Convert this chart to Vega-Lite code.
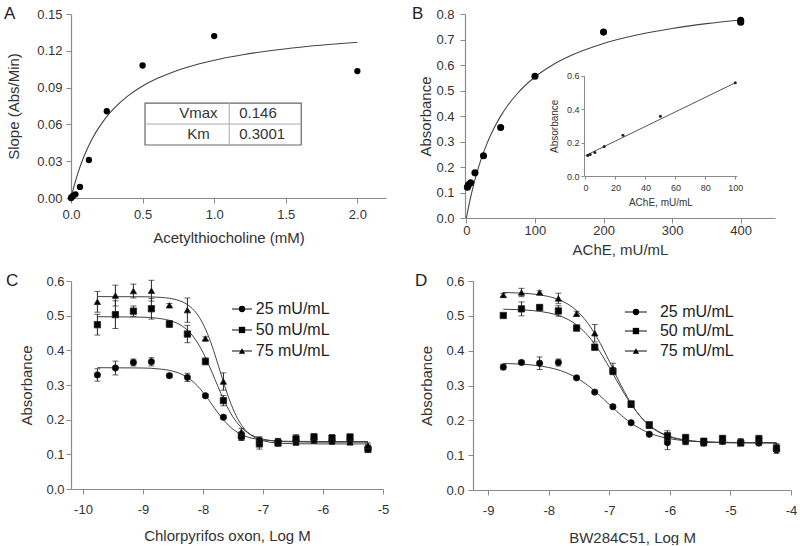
{
"$schema": "https://vega.github.io/schema/vega-lite/v6.json",
"padding": {"left": 4, "top": 5, "right": 0, "bottom": 0},
"background": "white",
"config": {
 "font": "Liberation Sans",
 "view": {"stroke": null},
 "axis": {"grid": false, "domainColor": "#8a8a8a", "tickColor": "#8a8a8a", "labelColor": "#333", "titleColor": "#333", "labelFontSize": 13, "titleFontSize": 15, "titleFontWeight": "normal", "tickSize": 5, "domainWidth": 1.2, "labelFont": "Liberation Sans", "titleFont": "Liberation Sans", "labelOverlap": false, "labelFlush": false, "tickCount": 30},
 "title": {"fontSize": 17, "fontWeight": "normal", "color": "#222", "anchor": "start", "frame": "group", "offset": -15, "font": "Liberation Sans"}
},
"datasets": {
 "seriesList": [{"series":"25 mU/mL"},{"series":"50 mU/mL"},{"series":"75 mU/mL"}],
 "curveA": [
  {"x":0,"y":0},{"x":0.01,"y":0.00471},{"x":0.02,"y":0.00912},{"x":0.04,"y":0.01717},{"x":0.06,"y":0.02433},{"x":0.08,"y":0.03073},{"x":0.1,"y":0.03649},{"x":0.15,"y":0.04866},{"x":0.2,"y":0.05839},{"x":0.25,"y":0.06635},{"x":0.3,"y":0.07299},{"x":0.4,"y":0.08342},{"x":0.5,"y":0.09124},{"x":0.6,"y":0.09732},{"x":0.7,"y":0.10219},{"x":0.8,"y":0.10617},{"x":1.0,"y":0.1123},{"x":1.2,"y":0.11679},{"x":1.4,"y":0.12023},{"x":1.6,"y":0.12294},{"x":1.8,"y":0.12514},{"x":2.0,"y":0.12695}
 ],
 "ptsA": [
  {"x":0,"y":0},{"x":0.0039,"y":0.0005},{"x":0.0078,"y":0.001},{"x":0.0156,"y":0.002},{"x":0.031,"y":0.003},{"x":0.0625,"y":0.009},{"x":0.125,"y":0.031},{"x":0.25,"y":0.0707},{"x":0.5,"y":0.108},{"x":1.0,"y":0.132},{"x":2.0,"y":0.1035}
 ],
 "tableA": [{"param":"Vmax","value":"0.146"},{"param":"Km","value":"0.3001"}],
 "curveB": [
  {"x":0,"y":0},{"x":2,"y":0.0279},{"x":5,"y":0.0666},{"x":10,"y":0.124},{"x":15,"y":0.174},{"x":20,"y":0.218},{"x":30,"y":0.2916},{"x":40,"y":0.3508},{"x":50,"y":0.3995},{"x":60,"y":0.4402},{"x":75,"y":0.4902},{"x":100,"y":0.553},{"x":125,"y":0.599},{"x":150,"y":0.634},{"x":200,"y":0.6845},{"x":250,"y":0.7186},{"x":300,"y":0.7434},{"x":350,"y":0.7621},{"x":400,"y":0.7768}
 ],
 "ptsB": [
  {"x":1.5,"y":0.121},{"x":3.125,"y":0.13},{"x":6.25,"y":0.138},{"x":12.5,"y":0.177},{"x":25,"y":0.244},{"x":50,"y":0.355},{"x":100,"y":0.556},{"x":200,"y":0.729},{"x":400,"y":0.775},{"x":400,"y":0.768}
 ],
 "insetLine": [{"x":0,"y":0.122},{"x":100,"y":0.557}],
 "insetPts": [
  {"x":1.5,"y":0.123},{"x":3.125,"y":0.128},{"x":6.25,"y":0.14},{"x":12.5,"y":0.177},{"x":25,"y":0.243},{"x":50,"y":0.357},{"x":100,"y":0.557}
 ],
 "curveC": [
  {"series":"25 mU/mL","x":-9.76,"y":0.350},{"series":"25 mU/mL","x":-9.0,"y":0.349},{"series":"25 mU/mL","x":-8.75,"y":0.3466},{"series":"25 mU/mL","x":-8.5,"y":0.3398},{"series":"25 mU/mL","x":-8.4,"y":0.3342},{"series":"25 mU/mL","x":-8.3,"y":0.3261},{"series":"25 mU/mL","x":-8.2,"y":0.3146},{"series":"25 mU/mL","x":-8.1,"y":0.2988},{"series":"25 mU/mL","x":-8.0,"y":0.2789},{"series":"25 mU/mL","x":-7.9,"y":0.2557},{"series":"25 mU/mL","x":-7.8,"y":0.2313},{"series":"25 mU/mL","x":-7.7,"y":0.2081},{"series":"25 mU/mL","x":-7.6,"y":0.1882},{"series":"25 mU/mL","x":-7.5,"y":0.1724},{"series":"25 mU/mL","x":-7.4,"y":0.1608},{"series":"25 mU/mL","x":-7.3,"y":0.1527},{"series":"25 mU/mL","x":-7.2,"y":0.1472},{"series":"25 mU/mL","x":-7.1,"y":0.1435},{"series":"25 mU/mL","x":-7.0,"y":0.1412},{"series":"25 mU/mL","x":-6.8,"y":0.1387},{"series":"25 mU/mL","x":-6.5,"y":0.1374},{"series":"25 mU/mL","x":-6.0,"y":0.137},{"series":"25 mU/mL","x":-5.25,"y":0.137},
  {"series":"50 mU/mL","x":-9.76,"y":0.497},{"series":"50 mU/mL","x":-9.0,"y":0.4956},{"series":"50 mU/mL","x":-8.75,"y":0.4925},{"series":"50 mU/mL","x":-8.5,"y":0.4831},{"series":"50 mU/mL","x":-8.4,"y":0.4755},{"series":"50 mU/mL","x":-8.3,"y":0.4641},{"series":"50 mU/mL","x":-8.2,"y":0.4475},{"series":"50 mU/mL","x":-8.1,"y":0.4243},{"series":"50 mU/mL","x":-8.0,"y":0.3939},{"series":"50 mU/mL","x":-7.9,"y":0.3569},{"series":"50 mU/mL","x":-7.8,"y":0.316},{"series":"50 mU/mL","x":-7.7,"y":0.2751},{"series":"50 mU/mL","x":-7.6,"y":0.2381},{"series":"50 mU/mL","x":-7.5,"y":0.2077},{"series":"50 mU/mL","x":-7.4,"y":0.1845},{"series":"50 mU/mL","x":-7.3,"y":0.1679},{"series":"50 mU/mL","x":-7.2,"y":0.1565},{"series":"50 mU/mL","x":-7.1,"y":0.1489},{"series":"50 mU/mL","x":-7.0,"y":0.1439},{"series":"50 mU/mL","x":-6.8,"y":0.1386},{"series":"50 mU/mL","x":-6.5,"y":0.1359},{"series":"50 mU/mL","x":-6.0,"y":0.135},{"series":"50 mU/mL","x":-5.25,"y":0.135},
  {"series":"75 mU/mL","x":-9.76,"y":0.555},{"series":"75 mU/mL","x":-9.0,"y":0.5545},{"series":"75 mU/mL","x":-8.75,"y":0.5532},{"series":"75 mU/mL","x":-8.5,"y":0.5483},{"series":"75 mU/mL","x":-8.4,"y":0.5437},{"series":"75 mU/mL","x":-8.3,"y":0.5362},{"series":"75 mU/mL","x":-8.2,"y":0.524},{"series":"75 mU/mL","x":-8.1,"y":0.5049},{"series":"75 mU/mL","x":-8.0,"y":0.4764},{"series":"75 mU/mL","x":-7.9,"y":0.4368},{"series":"75 mU/mL","x":-7.8,"y":0.3869},{"series":"75 mU/mL","x":-7.7,"y":0.3312},{"series":"75 mU/mL","x":-7.6,"y":0.2772},{"series":"75 mU/mL","x":-7.5,"y":0.2311},{"series":"75 mU/mL","x":-7.4,"y":0.196},{"series":"75 mU/mL","x":-7.3,"y":0.1715},{"series":"75 mU/mL","x":-7.2,"y":0.1555},{"series":"75 mU/mL","x":-7.1,"y":0.1453},{"series":"75 mU/mL","x":-7.0,"y":0.1392},{"series":"75 mU/mL","x":-6.8,"y":0.1332},{"series":"75 mU/mL","x":-6.5,"y":0.1307},{"series":"75 mU/mL","x":-6.0,"y":0.130},{"series":"75 mU/mL","x":-5.25,"y":0.130}
 ],
 "ptsC": [
  {"series":"25 mU/mL","x":-9.76,"y":0.329,"sem":0.018},{"series":"25 mU/mL","x":-9.46,"y":0.349,"sem":0.02},{"series":"25 mU/mL","x":-9.16,"y":0.365,"sem":0.01},{"series":"25 mU/mL","x":-8.86,"y":0.367,"sem":0.012},{"series":"25 mU/mL","x":-8.56,"y":0.327,"sem":0.005},{"series":"25 mU/mL","x":-8.26,"y":0.322,"sem":0.012},{"series":"25 mU/mL","x":-7.96,"y":0.269,"sem":0.005},{"series":"25 mU/mL","x":-7.66,"y":0.207,"sem":0.005},{"series":"25 mU/mL","x":-7.36,"y":0.150,"sem":0.01},{"series":"25 mU/mL","x":-7.06,"y":0.140,"sem":0.01},{"series":"25 mU/mL","x":-6.75,"y":0.137,"sem":0.008},{"series":"25 mU/mL","x":-6.45,"y":0.138,"sem":0.012},{"series":"25 mU/mL","x":-6.15,"y":0.142,"sem":0.008},{"series":"25 mU/mL","x":-5.85,"y":0.138,"sem":0.008},{"series":"25 mU/mL","x":-5.55,"y":0.140,"sem":0.008},{"series":"25 mU/mL","x":-5.25,"y":0.117,"sem":0.01},
  {"series":"50 mU/mL","x":-9.76,"y":0.474,"sem":0.03},{"series":"50 mU/mL","x":-9.46,"y":0.503,"sem":0.04},{"series":"50 mU/mL","x":-9.16,"y":0.513,"sem":0.015},{"series":"50 mU/mL","x":-8.86,"y":0.520,"sem":0.03},{"series":"50 mU/mL","x":-8.56,"y":0.476,"sem":0.01},{"series":"50 mU/mL","x":-8.26,"y":0.447,"sem":0.025},{"series":"50 mU/mL","x":-7.96,"y":0.368,"sem":0.01},{"series":"50 mU/mL","x":-7.66,"y":0.255,"sem":0.015},{"series":"50 mU/mL","x":-7.36,"y":0.153,"sem":0.012},{"series":"50 mU/mL","x":-7.06,"y":0.130,"sem":0.015},{"series":"50 mU/mL","x":-6.75,"y":0.133,"sem":0.01},{"series":"50 mU/mL","x":-6.45,"y":0.145,"sem":0.012},{"series":"50 mU/mL","x":-6.15,"y":0.150,"sem":0.01},{"series":"50 mU/mL","x":-5.85,"y":0.147,"sem":0.01},{"series":"50 mU/mL","x":-5.55,"y":0.150,"sem":0.008},{"series":"50 mU/mL","x":-5.25,"y":0.115,"sem":0.01},
  {"series":"75 mU/mL","x":-9.76,"y":0.540,"sem":0.03},{"series":"75 mU/mL","x":-9.46,"y":0.558,"sem":0.03},{"series":"75 mU/mL","x":-9.16,"y":0.571,"sem":0.02},{"series":"75 mU/mL","x":-8.86,"y":0.572,"sem":0.03},{"series":"75 mU/mL","x":-8.56,"y":0.530,"sem":0.005},{"series":"75 mU/mL","x":-8.26,"y":0.516,"sem":0.035},{"series":"75 mU/mL","x":-7.96,"y":0.434,"sem":0.005},{"series":"75 mU/mL","x":-7.66,"y":0.310,"sem":0.025},{"series":"75 mU/mL","x":-7.36,"y":0.165,"sem":0.01},{"series":"75 mU/mL","x":-7.06,"y":0.140,"sem":0.01},{"series":"75 mU/mL","x":-6.75,"y":0.138,"sem":0.008},{"series":"75 mU/mL","x":-6.45,"y":0.135,"sem":0.008},{"series":"75 mU/mL","x":-6.15,"y":0.140,"sem":0.008},{"series":"75 mU/mL","x":-5.85,"y":0.138,"sem":0.008},{"series":"75 mU/mL","x":-5.55,"y":0.135,"sem":0.008},{"series":"75 mU/mL","x":-5.25,"y":0.125,"sem":0.008}
 ],
 "curveD": [
  {"series":"25 mU/mL","x":-8.75,"y":0.3634},{"series":"25 mU/mL","x":-8.5,"y":0.3617},{"series":"25 mU/mL","x":-8.25,"y":0.3584},{"series":"25 mU/mL","x":-8.0,"y":0.3518},{"series":"25 mU/mL","x":-7.8,"y":0.3425},{"series":"25 mU/mL","x":-7.6,"y":0.3278},{"series":"25 mU/mL","x":-7.4,"y":0.3063},{"series":"25 mU/mL","x":-7.2,"y":0.278},{"series":"25 mU/mL","x":-7.0,"y":0.2456},{"series":"25 mU/mL","x":-6.8,"y":0.2139},{"series":"25 mU/mL","x":-6.6,"y":0.1875},{"series":"25 mU/mL","x":-6.4,"y":0.1681},{"series":"25 mU/mL","x":-6.2,"y":0.1552},{"series":"25 mU/mL","x":-6.0,"y":0.1472},{"series":"25 mU/mL","x":-5.75,"y":0.1416},{"series":"25 mU/mL","x":-5.5,"y":0.1388},{"series":"25 mU/mL","x":-5.0,"y":0.1367},{"series":"25 mU/mL","x":-4.24,"y":0.136},
  {"series":"50 mU/mL","x":-8.75,"y":0.519},{"series":"50 mU/mL","x":-8.5,"y":0.5177},{"series":"50 mU/mL","x":-8.25,"y":0.5148},{"series":"50 mU/mL","x":-8.0,"y":0.5085},{"series":"50 mU/mL","x":-7.8,"y":0.4987},{"series":"50 mU/mL","x":-7.6,"y":0.4813},{"series":"50 mU/mL","x":-7.4,"y":0.4524},{"series":"50 mU/mL","x":-7.2,"y":0.4089},{"series":"50 mU/mL","x":-7.0,"y":0.3522},{"series":"50 mU/mL","x":-6.8,"y":0.2907},{"series":"50 mU/mL","x":-6.6,"y":0.2362},{"series":"50 mU/mL","x":-6.4,"y":0.1957},{"series":"50 mU/mL","x":-6.2,"y":0.1694},{"series":"50 mU/mL","x":-6.0,"y":0.1539},{"series":"50 mU/mL","x":-5.75,"y":0.1437},{"series":"50 mU/mL","x":-5.5,"y":0.1389},{"series":"50 mU/mL","x":-5.0,"y":0.1358},{"series":"50 mU/mL","x":-4.24,"y":0.135},
  {"series":"75 mU/mL","x":-8.75,"y":0.567},{"series":"75 mU/mL","x":-8.5,"y":0.5656},{"series":"75 mU/mL","x":-8.25,"y":0.5624},{"series":"75 mU/mL","x":-8.0,"y":0.5554},{"series":"75 mU/mL","x":-7.8,"y":0.544},{"series":"75 mU/mL","x":-7.6,"y":0.5236},{"series":"75 mU/mL","x":-7.4,"y":0.4892},{"series":"75 mU/mL","x":-7.2,"y":0.437},{"series":"75 mU/mL","x":-7.0,"y":0.3696},{"series":"75 mU/mL","x":-6.8,"y":0.2984},{"series":"75 mU/mL","x":-6.6,"y":0.2377},{"series":"75 mU/mL","x":-6.4,"y":0.1945},{"series":"75 mU/mL","x":-6.2,"y":0.1677},{"series":"75 mU/mL","x":-6.0,"y":0.1524},{"series":"75 mU/mL","x":-5.75,"y":0.1428},{"series":"75 mU/mL","x":-5.5,"y":0.1384},{"series":"75 mU/mL","x":-5.0,"y":0.1356},{"series":"75 mU/mL","x":-4.24,"y":0.135}
 ],
 "ptsD": [
  {"series":"25 mU/mL","x":-8.75,"y":0.353,"sem":0.008},{"series":"25 mU/mL","x":-8.45,"y":0.366,"sem":0.005},{"series":"25 mU/mL","x":-8.15,"y":0.364,"sem":0.018},{"series":"25 mU/mL","x":-7.84,"y":0.366,"sem":0.01},{"series":"25 mU/mL","x":-7.54,"y":0.322,"sem":0.005},{"series":"25 mU/mL","x":-7.24,"y":0.281,"sem":0.005},{"series":"25 mU/mL","x":-6.94,"y":0.239,"sem":0.005},{"series":"25 mU/mL","x":-6.64,"y":0.193,"sem":0.005},{"series":"25 mU/mL","x":-6.34,"y":0.160,"sem":0.005},{"series":"25 mU/mL","x":-6.04,"y":0.136,"sem":0.02},{"series":"25 mU/mL","x":-5.74,"y":0.140,"sem":0.01},{"series":"25 mU/mL","x":-5.44,"y":0.135,"sem":0.008},{"series":"25 mU/mL","x":-5.13,"y":0.140,"sem":0.008},{"series":"25 mU/mL","x":-4.83,"y":0.137,"sem":0.008},{"series":"25 mU/mL","x":-4.53,"y":0.135,"sem":0.008},{"series":"25 mU/mL","x":-4.24,"y":0.115,"sem":0.01},
  {"series":"50 mU/mL","x":-8.75,"y":0.501,"sem":0.005},{"series":"50 mU/mL","x":-8.45,"y":0.520,"sem":0.02},{"series":"50 mU/mL","x":-8.15,"y":0.524,"sem":0.008},{"series":"50 mU/mL","x":-7.84,"y":0.514,"sem":0.015},{"series":"50 mU/mL","x":-7.54,"y":0.465,"sem":0.008},{"series":"50 mU/mL","x":-7.24,"y":0.410,"sem":0.008},{"series":"50 mU/mL","x":-6.94,"y":0.341,"sem":0.01},{"series":"50 mU/mL","x":-6.64,"y":0.247,"sem":0.008},{"series":"50 mU/mL","x":-6.34,"y":0.187,"sem":0.008},{"series":"50 mU/mL","x":-6.04,"y":0.155,"sem":0.015},{"series":"50 mU/mL","x":-5.74,"y":0.150,"sem":0.01},{"series":"50 mU/mL","x":-5.44,"y":0.140,"sem":0.008},{"series":"50 mU/mL","x":-5.13,"y":0.148,"sem":0.008},{"series":"50 mU/mL","x":-4.83,"y":0.135,"sem":0.008},{"series":"50 mU/mL","x":-4.53,"y":0.147,"sem":0.01},{"series":"50 mU/mL","x":-4.24,"y":0.120,"sem":0.01},
  {"series":"75 mU/mL","x":-8.75,"y":0.560,"sem":0.005},{"series":"75 mU/mL","x":-8.45,"y":0.567,"sem":0.012},{"series":"75 mU/mL","x":-8.15,"y":0.567,"sem":0.005},{"series":"75 mU/mL","x":-7.84,"y":0.550,"sem":0.015},{"series":"75 mU/mL","x":-7.54,"y":0.506,"sem":0.007},{"series":"75 mU/mL","x":-7.24,"y":0.450,"sem":0.025},{"series":"75 mU/mL","x":-6.94,"y":0.349,"sem":0.015},{"series":"75 mU/mL","x":-6.64,"y":0.245,"sem":0.008},{"series":"75 mU/mL","x":-6.34,"y":0.185,"sem":0.008},{"series":"75 mU/mL","x":-6.04,"y":0.150,"sem":0.015},{"series":"75 mU/mL","x":-5.74,"y":0.140,"sem":0.008},{"series":"75 mU/mL","x":-5.44,"y":0.135,"sem":0.008},{"series":"75 mU/mL","x":-5.13,"y":0.140,"sem":0.008},{"series":"75 mU/mL","x":-4.83,"y":0.140,"sem":0.008},{"series":"75 mU/mL","x":-4.53,"y":0.138,"sem":0.008},{"series":"75 mU/mL","x":-4.24,"y":0.125,"sem":0.008}
 ]
},
"spacing": 15,
"resolve": {"scale": {"shape": "independent"}, "legend": {"shape": "independent"}},
"vconcat": [
 {"spacing": 26, "hconcat": [
  {"width": 315, "height": 184,
   "title": {"text": "A", "dx": -67},
   "layer": [
    {"data": {"name": "curveA"}, "mark": {"type": "line", "color": "#444", "strokeWidth": 1.1, "interpolate": "monotone"},
     "encoding": {
      "x": {"field": "x", "type": "quantitative", "title": "Acetylthiocholine (mM)", "scale": {"domain": [0, 2.2], "nice": false}, "axis": {"values": [0, 0.5, 1, 1.5, 2], "format": ".1f", "labelPadding": 5, "titlePadding": 9, "tickCount": 30}},
      "y": {"field": "y", "type": "quantitative", "title": "Slope (Abs/Min)", "scale": {"domain": [0, 0.15], "nice": false}, "axis": {"values": [0, 0.03, 0.06, 0.09, 0.12, 0.15], "format": ".2f", "labelPadding": 4, "titlePadding": 15, "tickCount": 30}}}},
    {"data": {"name": "ptsA"}, "mark": {"type": "circle", "size": 40, "color": "black", "opacity": 1},
     "encoding": {"x": {"field": "x", "type": "quantitative", "title": "Acetylthiocholine (mM)"}, "y": {"field": "y", "type": "quantitative", "title": "Slope (Abs/Min)"}}},
    {"data": {"values": [{}]}, "mark": {"type": "rect", "fill": "white", "stroke": "#666", "strokeWidth": 1.2},
     "encoding": {"x": {"datum": 0.517, "type": "quantitative"}, "x2": {"datum": 1.608}, "y": {"datum": 0.0774, "type": "quantitative"}, "y2": {"datum": 0.0432}}},
    {"data": {"values": [{}]}, "mark": {"type": "rule", "color": "#aaa"},
     "encoding": {"x": {"datum": 1.105, "type": "quantitative"}, "y": {"datum": 0.0432, "type": "quantitative"}, "y2": {"datum": 0.0774}}},
    {"data": {"values": [{}]}, "mark": {"type": "rule", "color": "#aaa"},
     "encoding": {"x": {"datum": 0.517, "type": "quantitative"}, "x2": {"datum": 1.608}, "y": {"datum": 0.0603, "type": "quantitative"}}},
    {"data": {"name": "tableA"}, "transform": [{"filter": "datum.param == 'Vmax'"}], "mark": {"type": "text", "align": "center", "baseline": "middle", "fontSize": 15, "color": "#333"},
     "encoding": {"text": {"field": "param"}, "x": {"datum": 0.89, "type": "quantitative"}, "y": {"datum": 0.0691, "type": "quantitative"}}},
    {"data": {"name": "tableA"}, "transform": [{"filter": "datum.param == 'Vmax'"}], "mark": {"type": "text", "align": "left", "baseline": "middle", "fontSize": 15, "color": "#333"},
     "encoding": {"text": {"field": "value"}, "x": {"datum": 1.175, "type": "quantitative"}, "y": {"datum": 0.0691, "type": "quantitative"}}},
    {"data": {"name": "tableA"}, "transform": [{"filter": "datum.param == 'Km'"}], "mark": {"type": "text", "align": "center", "baseline": "middle", "fontSize": 15, "color": "#333"},
     "encoding": {"text": {"field": "param"}, "x": {"datum": 0.89, "type": "quantitative"}, "y": {"datum": 0.0522, "type": "quantitative"}}},
    {"data": {"name": "tableA"}, "transform": [{"filter": "datum.param == 'Km'"}], "mark": {"type": "text", "align": "left", "baseline": "middle", "fontSize": 15, "color": "#333"},
     "encoding": {"text": {"field": "value"}, "x": {"datum": 1.175, "type": "quantitative"}, "y": {"datum": 0.0522, "type": "quantitative"}}}
   ]},
  {"width": 310, "height": 204,
   "title": {"text": "B", "dx": -53},
   "layer": [
    {"layer": [
     {"data": {"name": "curveB"}, "mark": {"type": "line", "color": "#444", "strokeWidth": 1.1, "interpolate": "monotone"},
      "encoding": {
       "x": {"field": "x", "type": "quantitative", "title": "AChE, mU/mL", "scale": {"domain": [-2, 450], "nice": false}, "axis": {"orient": "bottom", "values": [0, 100, 200, 300, 400], "format": "d", "labelPadding": 1, "titlePadding": 5, "tickCount": 30}},
       "y": {"field": "y", "type": "quantitative", "title": "Absorbance", "scale": {"domain": [0, 0.8], "nice": false}, "axis": {"orient": "left", "values": [0, 0.1, 0.2, 0.3, 0.4, 0.5, 0.6, 0.7, 0.8], "format": ".1f", "labelPadding": 6, "titlePadding": 2, "tickCount": 30}}}},
     {"data": {"name": "ptsB"}, "mark": {"type": "circle", "size": 50, "color": "black", "opacity": 1},
      "encoding": {"x": {"field": "x", "type": "quantitative", "title": "AChE, mU/mL"}, "y": {"field": "y", "type": "quantitative", "title": "Absorbance"}}}
    ]},
    {"layer": [
     {"data": {"name": "insetLine"}, "mark": {"type": "line", "color": "#555", "strokeWidth": 1},
      "encoding": {
       "x": {"field": "x", "type": "quantitative", "title": "AChE, mU/mL", "scale": {"domain": [-1, 101], "range": [119, 271.8], "nice": false}, "axis": {"orient": "bottom", "offset": -42, "values": [0, 20, 40, 60, 80, 100], "format": "d", "labelFontSize": 9, "titleFontSize": 10, "tickSize": 3, "labelPadding": 4, "titlePadding": 5, "domainWidth": 1, "tickCount": 30}},
       "y": {"field": "y", "type": "quantitative", "title": "Absorbance", "scale": {"domain": [0, 0.6], "range": [162, 61.6], "nice": false}, "axis": {"orient": "left", "offset": -119, "values": [0, 0.2, 0.4, 0.6], "format": ".1f", "labelFontSize": 9, "titleFontSize": 10, "tickSize": 3, "labelPadding": 2, "titlePadding": 7, "domainWidth": 1, "tickCount": 30}}}},
     {"data": {"name": "insetPts"}, "mark": {"type": "circle", "size": 9, "color": "#222", "opacity": 1},
      "encoding": {"x": {"field": "x", "type": "quantitative", "title": "AChE, mU/mL"}, "y": {"field": "y", "type": "quantitative", "title": "Absorbance"}}}
    ]}
   ],
   "resolve": {"scale": {"x": "independent", "y": "independent"}, "axis": {"x": "independent", "y": "independent"}}
  }
 ]},
 {"spacing": 26, "resolve": {"scale": {"shape": "independent"}, "legend": {"shape": "independent"}}, "hconcat": [
  {"width": 312, "height": 208,
   "title": {"text": "C", "dx": -65},
   "layer": [
    {"data": {"name": "curveC"}, "mark": {"type": "line", "color": "#444", "strokeWidth": 1, "interpolate": "monotone"},
     "encoding": {
      "x": {"field": "x", "type": "quantitative", "title": "Chlorpyrifos oxon, Log M", "scale": {"domain": [-10.2, -5], "nice": false}, "axis": {"values": [-10, -9, -8, -7, -6, -5], "format": "d", "labelExpr": "replace(datum.label, '−', '-')", "labelPadding": 9, "titlePadding": 12, "tickCount": 30}},
      "y": {"field": "y", "type": "quantitative", "title": "Absorbance", "scale": {"domain": [0, 0.6], "nice": false}, "axis": {"values": [0, 0.1, 0.2, 0.3, 0.4, 0.5, 0.6], "format": ".1f", "labelPadding": 2, "titlePadding": 11, "tickCount": 30}},
      "detail": {"field": "series"}}},
    {"data": {"name": "ptsC"}, "mark": {"type": "errorbar", "ticks": {"size": 6}, "color": "#222", "thickness": 1},
     "encoding": {"x": {"field": "x", "type": "quantitative", "title": "Chlorpyrifos oxon, Log M"}, "y": {"field": "y", "type": "quantitative", "title": "Absorbance"}, "yError": {"field": "sem"}}},
    {"data": {"name": "ptsC"}, "mark": {"type": "point", "filled": true, "size": 40, "color": "black", "stroke": "#222", "strokeWidth": 0.8, "opacity": 1},
     "encoding": {"x": {"field": "x", "type": "quantitative", "title": "Chlorpyrifos oxon, Log M"}, "y": {"field": "y", "type": "quantitative", "title": "Absorbance"},
      "shape": {"field": "series", "type": "nominal", "scale": {"domain": ["25 mU/mL", "50 mU/mL", "75 mU/mL"], "range": ["circle", "square", "triangle-up"]}, "legend": null}}},
    {"data": {"name": "seriesList"}, "transform": [{"filter": "datum.series == '25 mU/mL'"}], "encoding": {"y": {"datum": 0.5192, "type": "quantitative"}},
     "layer": [
      {"mark": {"type": "rule", "color": "#333", "strokeWidth": 1.2}, "encoding": {"x": {"datum": -7.517, "type": "quantitative"}, "x2": {"datum": -7.183}}},
      {"mark": {"type": "point", "filled": true, "size": 40, "color": "black", "opacity": 1}, "encoding": {"x": {"datum": -7.35, "type": "quantitative"}, "shape": {"field": "series", "type": "nominal", "legend": null}}},
      {"mark": {"type": "text", "align": "left", "baseline": "middle", "fontSize": 16, "color": "#222"}, "encoding": {"x": {"datum": -7.12, "type": "quantitative"}, "text": {"field": "series"}}}
     ]},
    {"data": {"name": "seriesList"}, "transform": [{"filter": "datum.series == '50 mU/mL'"}], "encoding": {"y": {"datum": 0.4587, "type": "quantitative"}},
     "layer": [
      {"mark": {"type": "rule", "color": "#333", "strokeWidth": 1.2}, "encoding": {"x": {"datum": -7.517, "type": "quantitative"}, "x2": {"datum": -7.183}}},
      {"mark": {"type": "point", "filled": true, "size": 40, "color": "black", "opacity": 1}, "encoding": {"x": {"datum": -7.35, "type": "quantitative"}, "shape": {"field": "series", "type": "nominal", "legend": null}}},
      {"mark": {"type": "text", "align": "left", "baseline": "middle", "fontSize": 16, "color": "#222"}, "encoding": {"x": {"datum": -7.12, "type": "quantitative"}, "text": {"field": "series"}}}
     ]},
    {"data": {"name": "seriesList"}, "transform": [{"filter": "datum.series == '75 mU/mL'"}], "encoding": {"y": {"datum": 0.3981, "type": "quantitative"}},
     "layer": [
      {"mark": {"type": "rule", "color": "#333", "strokeWidth": 1.2}, "encoding": {"x": {"datum": -7.517, "type": "quantitative"}, "x2": {"datum": -7.183}}},
      {"mark": {"type": "point", "filled": true, "size": 40, "color": "black", "opacity": 1}, "encoding": {"x": {"datum": -7.35, "type": "quantitative"}, "shape": {"field": "series", "type": "nominal", "legend": null}}},
      {"mark": {"type": "text", "align": "left", "baseline": "middle", "fontSize": 16, "color": "#222"}, "encoding": {"x": {"datum": -7.12, "type": "quantitative"}, "text": {"field": "series"}}}
     ]}
   ]},
  {"width": 318, "height": 209,
   "title": {"text": "D", "dx": -58},
   "layer": [
    {"data": {"name": "curveD"}, "mark": {"type": "line", "color": "#444", "strokeWidth": 1, "interpolate": "monotone"},
     "encoding": {
      "x": {"field": "x", "type": "quantitative", "title": "BW284C51, Log M", "scale": {"domain": [-9.25, -4], "nice": false}, "axis": {"values": [-9, -8, -7, -6, -5, -4], "format": "d", "labelExpr": "replace(datum.label, '−', '-')", "labelPadding": 9, "titlePadding": 13, "tickCount": 30}},
      "y": {"field": "y", "type": "quantitative", "title": "Absorbance", "scale": {"domain": [0, 0.6], "nice": false}, "axis": {"values": [0, 0.1, 0.2, 0.3, 0.4, 0.5, 0.6], "format": ".1f", "labelPadding": 4, "titlePadding": 11, "tickCount": 30}},
      "detail": {"field": "series"}}},
    {"data": {"name": "ptsD"}, "mark": {"type": "errorbar", "ticks": {"size": 6}, "color": "#222", "thickness": 1},
     "encoding": {"x": {"field": "x", "type": "quantitative", "title": "BW284C51, Log M"}, "y": {"field": "y", "type": "quantitative", "title": "Absorbance"}, "yError": {"field": "sem"}}},
    {"data": {"name": "ptsD"}, "mark": {"type": "point", "filled": true, "size": 40, "color": "black", "stroke": "#222", "strokeWidth": 0.8, "opacity": 1},
     "encoding": {"x": {"field": "x", "type": "quantitative", "title": "BW284C51, Log M"}, "y": {"field": "y", "type": "quantitative", "title": "Absorbance"},
      "shape": {"field": "series", "type": "nominal", "scale": {"domain": ["25 mU/mL", "50 mU/mL", "75 mU/mL"], "range": ["circle", "square", "triangle-up"]}, "legend": null}}},
    {"data": {"name": "seriesList"}, "transform": [{"filter": "datum.series == '25 mU/mL'"}], "encoding": {"y": {"datum": 0.511, "type": "quantitative"}},
     "layer": [
      {"mark": {"type": "rule", "color": "#333", "strokeWidth": 1.2}, "encoding": {"x": {"datum": -6.742, "type": "quantitative"}, "x2": {"datum": -6.379}}},
      {"mark": {"type": "point", "filled": true, "size": 40, "color": "black", "opacity": 1}, "encoding": {"x": {"datum": -6.56, "type": "quantitative"}, "shape": {"field": "series", "type": "nominal", "legend": null}}},
      {"mark": {"type": "text", "align": "left", "baseline": "middle", "fontSize": 16, "color": "#222"}, "encoding": {"x": {"datum": -6.164, "type": "quantitative"}, "text": {"field": "series"}}}
     ]},
    {"data": {"name": "seriesList"}, "transform": [{"filter": "datum.series == '50 mU/mL'"}], "encoding": {"y": {"datum": 0.4564, "type": "quantitative"}},
     "layer": [
      {"mark": {"type": "rule", "color": "#333", "strokeWidth": 1.2}, "encoding": {"x": {"datum": -6.742, "type": "quantitative"}, "x2": {"datum": -6.379}}},
      {"mark": {"type": "point", "filled": true, "size": 40, "color": "black", "opacity": 1}, "encoding": {"x": {"datum": -6.56, "type": "quantitative"}, "shape": {"field": "series", "type": "nominal", "legend": null}}},
      {"mark": {"type": "text", "align": "left", "baseline": "middle", "fontSize": 16, "color": "#222"}, "encoding": {"x": {"datum": -6.164, "type": "quantitative"}, "text": {"field": "series"}}}
     ]},
    {"data": {"name": "seriesList"}, "transform": [{"filter": "datum.series == '75 mU/mL'"}], "encoding": {"y": {"datum": 0.399, "type": "quantitative"}},
     "layer": [
      {"mark": {"type": "rule", "color": "#333", "strokeWidth": 1.2}, "encoding": {"x": {"datum": -6.742, "type": "quantitative"}, "x2": {"datum": -6.379}}},
      {"mark": {"type": "point", "filled": true, "size": 40, "color": "black", "opacity": 1}, "encoding": {"x": {"datum": -6.56, "type": "quantitative"}, "shape": {"field": "series", "type": "nominal", "legend": null}}},
      {"mark": {"type": "text", "align": "left", "baseline": "middle", "fontSize": 16, "color": "#222"}, "encoding": {"x": {"datum": -6.164, "type": "quantitative"}, "text": {"field": "series"}}}
     ]}
   ]}
 ]}
]
}
